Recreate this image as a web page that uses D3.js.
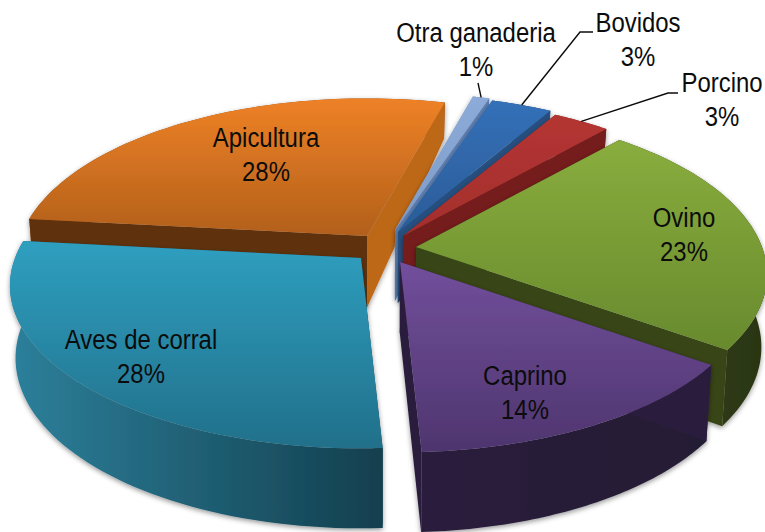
<!DOCTYPE html>
<html><head><meta charset="utf-8">
<style>html,body{margin:0;padding:0;background:#fff}svg{display:block}
text{font-family:"Liberation Sans",Arial,sans-serif;font-size:28px;fill:#0c0c0c;text-anchor:middle}</style>
</head><body>
<script src="https://cdn.jsdelivr.net/npm/d3@7/dist/d3.min.js"></script>
<script>
// data
const categories = ["Otra ganaderia","Bovidos","Porcino","Ovino","Caprino","Aves de corral","Apicultura"];
const shares = [0.9,3.3,3.1,23.45,14.2,27.55,27.5];
// layout
const W=765,H=532;
const pieStartDeg=15.2;
const apexes=[[395,230],[398,232],[403,236],[416,247],[400,262],[361,258],[367,236]];
const labelPos=[[476,42],[638,32],[722,92],[684,227],[525,385],[141,349],[266,147]];
const elbows=[[[478,83]],[[580,32],[593,32]],[[668,93],[678,93]],null,null,null,null];
const lineGap=34;
const narrow=0.855;
const paintOrder=[6,0,1,2,3,5,4];
// styles
const topTop=["#8cabd8","#3470b8","#b43533","#89ad3d","#724f9c","#2f9fc0","#ee8126"];
const topBot=["#7f9cc8","#2b5c98","#a32e2c","#688a2e","#4e356e","#21708a","#b2601b"];
const startWall=["#7f9ac6","#2c5c94","#741f1d","#2c3812","#2c1f3e","#133f4e","#5f3110"];
const endWall=["#5f7fb0","#25507f","#741f1d","#374516","#2c1f3e","#1b5568","#bd6719"];
const outerL=["#6b87b8","#264f82","#741f1d","#37451a","#2b1e3d","#2d809b","#8f4d14"];
const outerR=["#6b87b8","#264f82","#741f1d","#2a3511","#241a33","#133f4e","#8f4d14"];

const R=d3.scaleLinear().domain([0,1]).range([0,346]);
const Ry=d3.scaleLinear().domain([-1,0,1]).range([-161,0,158]);
const persp=0.17;
const depth=d3.scaleLinear().domain([-1,0,1]).range([35,71,80]);
const cx0=385, shrink=0.985;

function topPt(i,a){const u=Math.sin(a),v=-Math.cos(a),w=1/(1-persp*v);
  return [apexes[i][0]+R(u*w),apexes[i][1]+Ry(v*w)];}
function bottomOf(p,v){return [cx0+(p[0]-cx0)*shrink,p[1]+depth(v)];}
function botPt(i,a){return bottomOf(topPt(i,a),-Math.cos(a));}
const apexBot=i=>bottomOf(apexes[i],0);

const arcs=d3.pie().sort(null).value(d=>d)
  .startAngle(pieStartDeg*Math.PI/180).endAngle(pieStartDeg*Math.PI/180+2*Math.PI)(shares);
const pathLine=d3.line();
const svg=d3.select("body").append("svg").attr("width",W).attr("height",H);
const defs=svg.append("defs");
const f=defs.append("filter").attr("id","sh").attr("x","-10%").attr("y","-10%").attr("width","120%").attr("height","120%");
f.append("feDropShadow").attr("dx",0).attr("dy",2).attr("stdDeviation",2.5).attr("flood-color","#000").attr("flood-opacity",0.4);

function vgrad(id,c1,c2){const g=defs.append("linearGradient").attr("id",id).attr("x1",0).attr("y1",0).attr("x2",0).attr("y2",1);
  g.append("stop").attr("offset",0).attr("stop-color",c1);g.append("stop").attr("offset",1).attr("stop-color",c2);}
function hgrad(id,c1,c2){const g=defs.append("linearGradient").attr("id",id);
  g.append("stop").attr("offset",0).attr("stop-color",c1);g.append("stop").attr("offset",1).attr("stop-color",c2);}

paintOrder.forEach(i=>{
  const d=arcs[i];
  const as=d3.range(0,61).map(k=>d.startAngle+(d.endAngle-d.startAngle)*k/60);
  const tops=as.map(a=>topPt(i,a)), bots=as.map(a=>botPt(i,a));
  const g=svg.append("g").attr("filter","url(#sh)");
  vgrad("t"+i,topTop[i],topBot[i]); hgrad("o"+i,outerL[i],outerR[i]);
  g.append("path").attr("d",pathLine(tops.concat(bots.slice().reverse()))+"Z").attr("fill",`url(#o${i})`);
  g.append("path").attr("d",pathLine([apexes[i],tops[0],bots[0],apexBot(i)])+"Z").attr("fill",startWall[i]);
  g.append("path").attr("d",pathLine([apexes[i],tops[60],bots[60],apexBot(i)])+"Z").attr("fill",endWall[i]);
  g.append("path").attr("d",pathLine([apexes[i]].concat(tops))+"Z").attr("fill",`url(#t${i})`);
});

// leader lines
arcs.forEach((d,i)=>{ if(!elbows[i])return;
  const s=topPt(i,(d.startAngle+d.endAngle)/2);
  svg.append("path").attr("d",pathLine([s].concat(elbows[i]))).attr("fill","none").attr("stroke","#0c0c0c").attr("stroke-width",1.4);
});
// labels
const placeText=(x,y,t)=>svg.append("text").attr("transform",`translate(${x},${y}) scale(${narrow},1)`).text(t);
categories.forEach((c,i)=>{
  placeText(labelPos[i][0],labelPos[i][1],c);
  placeText(labelPos[i][0],labelPos[i][1]+lineGap,Math.round(shares[i])+"%");
});
</script>
</body></html>
